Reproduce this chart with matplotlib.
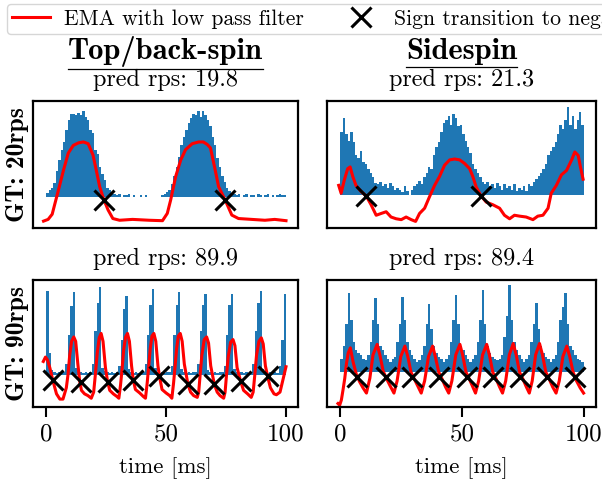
import numpy as np
import matplotlib
matplotlib.use("Agg")
import matplotlib.pyplot as plt
from matplotlib.lines import Line2D

plt.rcParams['font.family'] = ['cmr10', 'DejaVu Serif']
plt.rcParams['axes.unicode_minus'] = False
plt.rcParams['font.size'] = 17

# histogram of events, 1 ms bins, baseline 0, normalised to the tallest bin
bins = np.arange(100)

tl_hist = [0.05, 0.08, 0.1, 0.16, 0.3, 0.43, 0.55, 0.64, 0.78, 0.9,
           0.97, 0.96, 0.95, 0.98, 0.95, 1.0, 0.93, 0.9, 0.78, 0.74,
           0.55, 0.5, 0.35, 0.27, 0.2, 0.1, 0.08, 0.04, 0.03, 0.02,
           0.03, 0.0, 0.02, 0.02, 0.03, 0.0, 0.02, 0.0, 0.0, 0.02,
           0.0, 0.02, 0.0, 0.0, 0.0, 0.0, 0.0, 0.0, 0.02, 0.04,
           0.06, 0.08, 0.15, 0.25, 0.35, 0.47, 0.6, 0.7, 0.78, 0.86,
           0.92, 0.97, 0.95, 1.0, 0.93, 1.0, 0.95, 0.9, 0.82, 0.7,
           0.6, 0.45, 0.35, 0.25, 0.18, 0.1, 0.07, 0.05, 0.03, 0.02,
           0.03, 0.0, 0.02, 0.03, 0.0, 0.02, 0.02, 0.0, 0.03, 0.02,
           0.0, 0.02, 0.03, 0.0, 0.02, 0.0, 0.02, 0.03, 0.02, 0.02]

tr_hist = [0.72, 0.88, 0.7, 0.62, 0.72, 0.6, 0.45, 0.42, 0.5, 0.38,
           0.35, 0.3, 0.25, 0.2, 0.14, 0.12, 0.15, 0.1, 0.12, 0.08,
           0.14, 0.1, 0.06, 0.08, 0.06, 0.04, 0.1, 0.05, 0.0, 0.06,
           0.1, 0.12, 0.16, 0.12, 0.2, 0.25, 0.32, 0.3, 0.45, 0.55,
           0.6, 0.72, 0.82, 0.85, 0.9, 0.8, 0.92, 0.88, 0.78, 0.8,
           0.7, 0.62, 0.55, 0.48, 0.35, 0.3, 0.25, 0.2, 0.15, 0.12,
           0.15, 0.1, 0.12, 0.08, 0.14, 0.1, 0.06, 0.12, 0.08, 0.1,
           0.06, 0.12, 0.05, 0.08, 0.06, 0.1, 0.05, 0.12, 0.1, 0.15,
           0.18, 0.22, 0.25, 0.3, 0.35, 0.45, 0.5, 0.55, 0.6, 0.7,
           0.8, 0.75, 0.85, 1.0, 0.8, 0.9, 0.75, 0.85, 0.95, 0.8]

bl_hist = [0.96, 0.25, 0.05, 0.03, 0.02, 0.03, 0.02, 0.03, 0.12, 0.45,
           0.78, 0.94, 0.08, 0.04, 0.03, 0.02, 0.03, 0.02, 0.03, 0.12,
           0.5, 0.82, 1.0, 0.08, 0.04, 0.03, 0.02, 0.03, 0.02, 0.03,
           0.1, 0.4, 0.75, 0.9, 0.06, 0.03, 0.02, 0.03, 0.02, 0.03,
           0.03, 0.12, 0.45, 0.8, 0.98, 0.07, 0.03, 0.02, 0.03, 0.02,
           0.03, 0.03, 0.1, 0.45, 0.8, 0.94, 0.06, 0.03, 0.02, 0.03,
           0.02, 0.03, 0.03, 0.12, 0.5, 0.8, 0.92, 0.05, 0.03, 0.02,
           0.03, 0.02, 0.03, 0.03, 0.1, 0.45, 0.8, 0.92, 0.06, 0.03,
           0.02, 0.03, 0.02, 0.03, 0.02, 0.03, 0.12, 0.5, 0.82, 0.96,
           0.06, 0.03, 0.02, 0.03, 0.02, 0.03, 0.02, 0.1, 0.4, 0.92]

br_hist = [0.15, 0.3, 0.55, 0.91, 0.6, 0.35, 0.25, 0.22, 0.2, 0.15,
           0.14, 0.2, 0.35, 0.6, 0.85, 0.55, 0.3, 0.25, 0.2, 0.15,
           0.12, 0.15, 0.18, 0.35, 0.55, 0.87, 0.6, 0.35, 0.25, 0.2,
           0.15, 0.12, 0.14, 0.2, 0.3, 0.55, 0.78, 0.5, 0.3, 0.22,
           0.18, 0.15, 0.12, 0.15, 0.2, 0.35, 0.6, 0.89, 0.55, 0.3,
           0.25, 0.2, 0.15, 0.12, 0.15, 0.2, 0.35, 0.6, 0.95, 0.55,
           0.3, 0.22, 0.18, 0.15, 0.14, 0.15, 0.2, 0.4, 0.65, 1.0,
           0.6, 0.35, 0.25, 0.2, 0.15, 0.12, 0.15, 0.2, 0.35, 0.55,
           0.8, 0.5, 0.3, 0.22, 0.18, 0.15, 0.12, 0.15, 0.2, 0.35,
           0.6, 0.75, 0.91, 0.55, 0.3, 0.25, 0.2, 0.15, 0.14, 0.12]

# EMA with low pass filter
tl_ema_t = [-1.1, 0.8, 2.5, 3.7, 5.1, 7.2, 9.2, 11.3, 13.5, 15.5, 17.5, 19.5,
            20.9, 22.3, 23.9, 25.8, 27.8, 30.6, 36, 43, 48.5, 50.5, 51.9, 54,
            56.1, 58.1, 60.9, 63.6, 65.5, 67.2, 68.5, 70.2, 71.9, 74.7, 77.4,
            80.2, 85.7, 91.2, 95.3, 100]
tl_ema = [-0.28, -0.26, -0.2, -0.07, 0.08, 0.31, 0.51, 0.6, 0.63, 0.64, 0.62,
          0.49, 0.31, 0.12, -0.02, -0.15, -0.25, -0.27, -0.26, -0.27, -0.275,
          -0.19, -0.035, 0.24, 0.43, 0.55, 0.62, 0.64, 0.64, 0.61, 0.57, 0.35,
          0.12, -0.04, -0.21, -0.25, -0.26, -0.27, -0.26, -0.275]

tr_ema_t = [-0.7, 0.3, 1.6, 3.0, 4.0, 5.1, 6.4, 8.5, 10.6, 12.6, 14.7, 16.7,
            18.8, 20.8, 22.9, 25, 27.0, 29.1, 30.9, 32.5, 34.6, 36.6, 38.7,
            40.7, 42.8, 44.9, 46.9, 49, 51, 53.1, 54.4, 55.8, 57.8, 59.9, 62.6,
            65.4, 67.4, 69.5, 71.5, 73.6, 76.3, 79.1, 81.1, 83.2, 85.3, 86.6,
            88.7, 90.8, 92.9, 95, 96.3, 97.7, 98.6, 99.7]
tr_ema = [0.11, 0.02, 0.17, 0.3, 0.32, 0.21, 0.11, 0.04, -0.01, -0.11, -0.23,
          -0.21, -0.19, -0.25, -0.27, -0.28, -0.25, -0.28, -0.3, -0.21, -0.15,
          -0.02, 0.11, 0.21, 0.34, 0.4, 0.41, 0.4, 0.36, 0.3, 0.21, 0.09,
          -0.01, -0.08, -0.11, -0.15, -0.23, -0.27, -0.23, -0.24, -0.25, -0.28,
          -0.24, -0.23, -0.15, 0.02, 0.11, 0.23, 0.28, 0.4, 0.49, 0.45, 0.32,
          0.18]

bl_ema_t = [-1.2, -0.3, 0.5, 1.5, 2.9, 4.3, 5.7, 7.0, 8.4, 9.1, 9.8, 10.6,
            11.5, 12.3, 13.2, 14.0, 14.7, 16.0, 17.4, 18.8, 19.8, 20.5, 21.3,
            22.1, 22.9, 23.7, 24.7, 25.6, 26.5, 28, 29.5, 30.3, 31.0, 31.6,
            32.3, 33.1, 33.9, 34.7, 35.6, 36.3, 37.2, 39, 40.5, 41.4, 42.1,
            42.7, 43.4, 44.1, 44.9, 45.7, 46.6, 47.3, 48.3, 50, 51.5, 52.4,
            53.1, 53.7, 54.4, 55.1, 55.9, 56.7, 57.6, 59.1, 60.2, 61.5, 63,
            63.6, 64.2, 64.9, 65.9, 66.9, 67.7, 68.6, 70.1, 71.3, 72.5, 74,
            74.6, 75.2, 75.9, 76.9, 77.9, 78.7, 79.6, 81.1, 82.3, 84, 85.5,
            86.3, 87, 87.7, 88.7, 89.7, 90.5, 91.4, 92.4, 93.5, 95, 96, 97.5,
            98.8, 100]
bl_ema = [0.15, 0.2, 0.17, 0.08, -0.08, -0.22, -0.28, -0.28, -0.15, 0.0,
          0.22, 0.38, 0.43, 0.38, 0.12, -0.08, -0.18, -0.22, -0.24, -0.27,
          -0.2, 0.0, 0.25, 0.42, 0.47, 0.38, 0.08, -0.08, -0.18, -0.22, -0.25,
          -0.27, -0.12, 0.05, 0.28, 0.43, 0.47, 0.38, 0.1, -0.06, -0.17, -0.21,
          -0.25, -0.27, -0.1, 0.08, 0.3, 0.44, 0.47, 0.38, 0.1, -0.03, -0.17,
          -0.21, -0.24, -0.27, -0.1, 0.08, 0.3, 0.44, 0.47, 0.38, 0.12, -0.11,
          -0.2, -0.24, -0.26, -0.2, 0.0, 0.22, 0.4, 0.43, 0.36, 0.1, -0.11,
          -0.2, -0.24, -0.27, -0.2, 0.0, 0.2, 0.37, 0.4, 0.33, 0.08, -0.08,
          -0.18, -0.22, -0.26, -0.2, 0.0, 0.22, 0.38, 0.42, 0.35, 0.1, -0.03,
          -0.15, -0.22, -0.23, -0.2, -0.05, 0.09]

br_ema_t = [-1.0, -0.3, 0.4, 1.1, 1.8, 2.5, 3.2, 4.1, 5.2, 6.6, 7.9, 9.3,
            10.7, 12.1, 13.4, 15.1, 16.2, 17.6, 18.9, 20.3, 22.0, 23.3, 24.8,
            26.5, 27.7, 29.0, 30.4, 31.8, 33.2, 34.6, 36.2, 37.9, 39.0, 40.4,
            41.8, 43.2, 44.5, 45.8, 47.4, 49.1, 50.2, 51.6, 53.0, 54.4, 55.5,
            56.8, 58.4, 60.1, 61.2, 62.6, 64.0, 65.4, 66.6, 67.9, 69.4, 71.0,
            72.2, 73.6, 75.0, 76.4, 77.6, 78.8, 80.2, 81.8, 83.0, 84.4, 85.8,
            87.2, 88.6, 89.9, 91.4, 93.0, 94.2, 95.6, 97.0, 98.5, 99.9]
br_ema = [-0.36, -0.38, -0.32, -0.2, -0.07, 0.1, 0.22, 0.28, 0.12, -0.03,
          -0.11, -0.18, -0.24, -0.07, 0.2, 0.32, 0.2, 0.01, -0.07, -0.15,
          -0.24, -0.1, 0.18, 0.3, 0.18, 0.0, -0.08, -0.16, -0.24, -0.1, 0.18,
          0.3, 0.18, 0.0, -0.08, -0.17, -0.24, -0.1, 0.2, 0.32, 0.2, 0.0,
          -0.08, -0.17, -0.24, -0.1, 0.2, 0.32, 0.2, 0.0, -0.08, -0.17, -0.24,
          -0.1, 0.2, 0.33, 0.2, 0.0, -0.08, -0.17, -0.24, -0.1, 0.2, 0.33,
          0.2, 0.0, -0.08, -0.17, -0.24, -0.1, 0.18, 0.3, 0.18, 0.0, -0.1,
          -0.18, -0.24]

# sign transitions to negative
tl_x_t = [24.0, 74.7]
tl_x_v = [-0.03, -0.04]
tr_x_t = [10.6, 57.8]
tr_x_v = [-0.01, -0.01]
bl_x_t = [2.9, 14.6, 25.6, 36.2, 47.2, 59.1, 70.1, 81.1, 92.4]
bl_x_v = [-0.06, -0.09, -0.08, -0.06, -0.02, -0.11, -0.11, -0.075, -0.02]
br_x_t = [6.9, 18.9, 29.6, 40.6, 51.9, 62.8, 73.8, 85.0, 96.4]
br_x_v = [-0.05, -0.05, -0.05, -0.05, -0.05, -0.05, -0.05, -0.05, -0.05]

col_titles = ["Top/back-spin", "Sidespin"]
row_labels = ["GT: 20rps", "GT: 90rps"]
pred_rps = [[19.8, 21.3], [89.9, 89.4]]

panels = [[(tl_hist, tl_ema_t, tl_ema, tl_x_t, tl_x_v, (-0.36, 1.116)),
           (tr_hist, tr_ema_t, tr_ema, tr_x_t, tr_x_v, (-0.375, 1.07))],
          [(bl_hist, bl_ema_t, bl_ema, bl_x_t, bl_x_v, (-0.37, 1.08)),
           (br_hist, br_ema_t, br_ema, br_x_t, br_x_v, (-0.40, 1.06))]]

W, H = 602, 479
fig = plt.figure(figsize=(W / 100, H / 100), dpi=100)

lefts = [33, 327]
rights = [298, 596]
tops = [101, 280]
bottoms = [228, 407]

axes = [[None, None], [None, None]]
for r in range(2):
    for c in range(2):
        ax = fig.add_axes([lefts[c] / W, 1 - bottoms[r] / H,
                           (rights[c] - lefts[c]) / W, (bottoms[r] - tops[r]) / H])
        axes[r][c] = ax
        hist, et, ev, xt, xv, ylim = panels[r][c]
        ax.bar(bins, hist, width=1.0, align='edge', color='#1f77b4', linewidth=0)
        ax.plot(et, ev, color='red', linewidth=2.2)
        ax.plot(xt, xv, linestyle='none', marker='x', color='black',
                markersize=14.5, markeredgewidth=2.2)
        ax.set_xlim(-5.5, 105)
        ax.set_ylim(*ylim)
        ax.set_yticks([])
        for s in ax.spines.values():
            s.set_linewidth(1.6)
        if r == 1:
            ax.set_xticks([0, 50, 100])
            ax.tick_params(axis='x', length=7, width=1.5, pad=5, labelsize=18)
            ax.set_xlabel("time [ms]", fontsize=16.5, labelpad=8)
        else:
            ax.set_xticks([])
        ax.text(0.5, 1.12, "pred rps: %.1f" % pred_rps[r][c], transform=ax.transAxes,
                ha='center', va='baseline', fontsize=17.5)
        if c == 0:
            ax.set_ylabel(row_labels[r], family='cmb10', fontsize=18.5, labelpad=3)

title_texts = []
for c in range(2):
    t = axes[0][c].text(0.5, 1.33, col_titles[c], transform=axes[0][c].transAxes,
                        ha='center', va='baseline', family='cmb10', fontsize=22)
    title_texts.append(t)

handles = [Line2D([], [], color='red', linewidth=2.2),
           Line2D([], [], color='black', linestyle='none', marker='x',
                  markersize=14.5, markeredgewidth=2.2)]
fig.legend(handles, ["EMA with low pass filter", "Sign transition to negative"],
           loc='upper left', bbox_to_anchor=(7 / W, 1 - 4 / H), borderaxespad=0,
           ncol=2, fontsize=15.6, handlelength=1.75, handletextpad=0.65,
           columnspacing=1.75, borderpad=0.25)

# underline the column titles
fig.canvas.draw()
renderer = fig.canvas.get_renderer()
for c, t in enumerate(title_texts):
    bb = t.get_window_extent(renderer)
    y = bb.y0 - 2
    fig.add_artist(Line2D([bb.x0 / W, bb.x1 / W], [y / H, y / H],
                          transform=fig.transFigure, color='black', linewidth=0.9))

fig.savefig("out.png", dpi=100)
